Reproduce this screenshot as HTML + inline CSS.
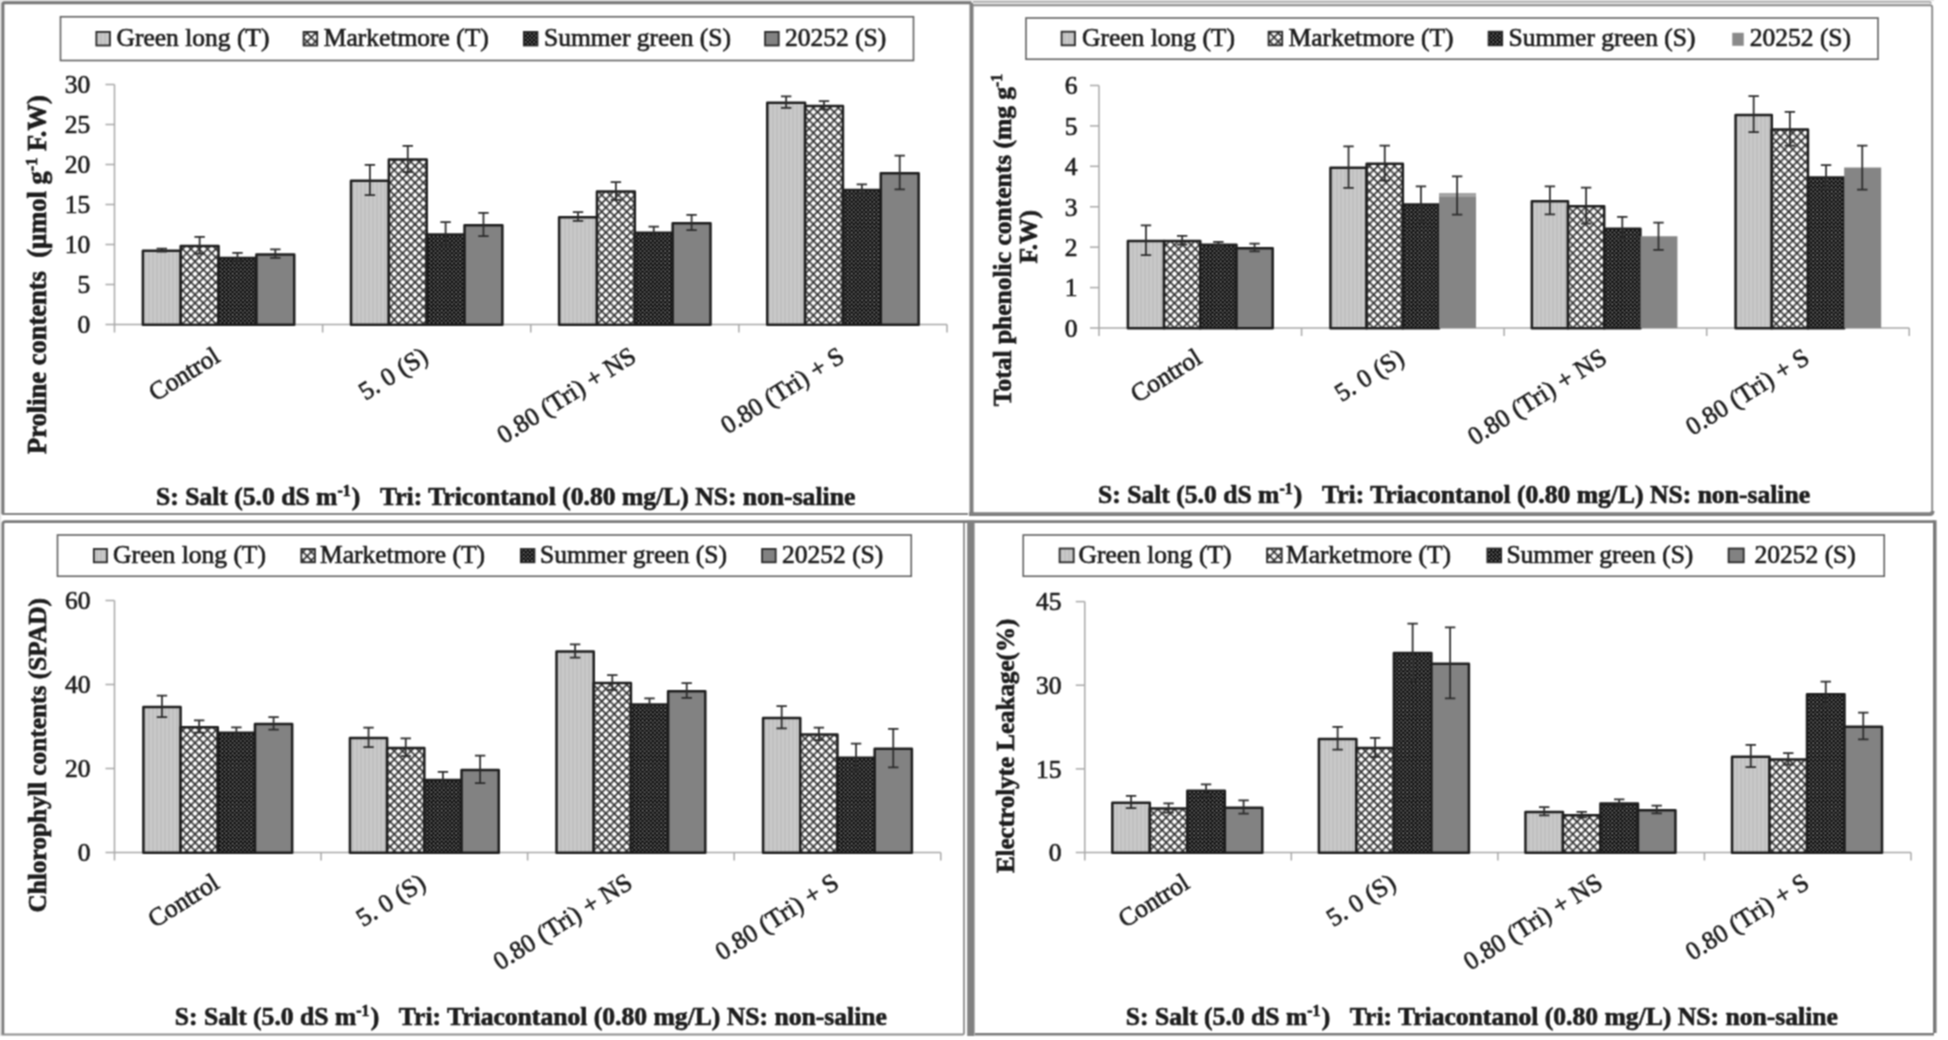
<!DOCTYPE html>
<html lang="en"><head><meta charset="utf-8"><title>Figure</title>
<style>html,body{margin:0;padding:0;background:#fff;}body{width:1948px;height:1040px;overflow:hidden;}svg{display:block;}svg text{stroke:#1c1c1c;stroke-width:0.65px;stroke-linejoin:round;}</style>
</head><body>
<svg width="1948" height="1040" viewBox="0 0 1948 1040" font-family='"Liberation Serif", serif' font-size="25.5" fill="#1c1c1c">
<defs>
<filter id="soft" x="0" y="0" width="1948" height="1040" filterUnits="userSpaceOnUse" color-interpolation-filters="sRGB"><feConvolveMatrix order="3" kernelMatrix="0.0625 0.125 0.0625 0.125 0.25 0.125 0.0625 0.125 0.0625" divisor="1" edgeMode="duplicate" preserveAlpha="true"/></filter>
<pattern id="pa" width="4" height="8" patternUnits="userSpaceOnUse"><rect width="4" height="8" fill="#c9c9c9"/><rect x="0" width="2" height="8" fill="#bfbfbf"/></pattern>
<pattern id="pb" width="8.3" height="8.3" patternUnits="userSpaceOnUse"><rect width="8.3" height="8.3" fill="#ffffff"/><path d="M-1,-1 L9.3,9.3 M9.3,-1 L-1,9.3" stroke="#2a2a2a" stroke-width="1.55" fill="none"/></pattern>
<pattern id="pc" width="4.1" height="4.1" patternUnits="userSpaceOnUse"><rect width="4.1" height="4.1" fill="#0e0e0e"/><circle cx="1" cy="1" r="0.72" fill="#b0b0b0"/><circle cx="3.05" cy="3.05" r="0.72" fill="#b0b0b0"/></pattern>
</defs>
<g filter="url(#soft)">
<rect x="-5" y="-5" width="1958" height="1050" fill="#ffffff"/>
<g id="frames" fill="none" stroke-linecap="butt">
<rect x="0" y="0" width="1934" height="1.2" fill="#e6e6e6" stroke="none"/>
<rect x="0" y="0" width="1.3" height="1036" fill="#e6e6e6" stroke="none"/>
<path d="M2.9,514 V4 Q2.9,2.8 4.2,2.8 H971.5" stroke="#777777" stroke-width="3"/>
<path d="M2,514 H968" stroke="#838383" stroke-width="1.9"/>
<path d="M971.5,2.8 V514" stroke="#7f7f7f" stroke-width="4"/>
<rect x="973" y="1.7" width="958" height="3.6" fill="#eeeeee" stroke="none"/>
<path d="M973,1.8 H1929 Q1931,1.8 1931,3.5" stroke="#949494" stroke-width="1.3"/>
<path d="M973,5.2 H1930 Q1932.2,5.2 1932.2,7.5 V512" stroke="#8a8a8a" stroke-width="1.9"/>
<path d="M969,514.1 H1930 Q1932.6,514.1 1932.6,511" stroke="#7f7f7f" stroke-width="3.8"/>
<path d="M2.9,1034.4 V524 Q2.9,521.6 5.3,521.6 H1934" stroke="#7a7a7a" stroke-width="2.7"/>
<path d="M1934.8,520.3 V1033" stroke="#777777" stroke-width="3.5"/>
<path d="M975,1034.3 H1934" stroke="#7a7a7a" stroke-width="2.5"/>
<path d="M1.5,1034.5 H963 Q964,1034.5 964,1033 V523" stroke="#8d8d8d" stroke-width="1.8"/>
<path d="M970.9,520.5 V1036" stroke="#818181" stroke-width="7.4"/>
</g>
<g id="panel1">
<rect x="60.5" y="16.75" width="853" height="43.75" fill="#ffffff" stroke="#626262" stroke-width="1.6"/>
<rect x="96.35" y="31.9" width="13.6" height="13.6" fill="url(#pa)" stroke="#2a2a2a" stroke-width="1.8"/>
<text x="116.5" y="46.3">Green long (T)</text>
<rect x="303.6" y="31.9" width="13.6" height="13.6" fill="url(#pb)" stroke="#2a2a2a" stroke-width="1.8"/>
<text x="323.75" y="46.3">Marketmore (T)</text>
<rect x="523.85" y="31.9" width="13.6" height="13.6" fill="url(#pc)" stroke="#2a2a2a" stroke-width="1.8"/>
<text x="544" y="46.3">Summer green (S)</text>
<rect x="765.1" y="31.9" width="13.6" height="13.6" fill="#828282" stroke="#2a2a2a" stroke-width="1.8"/>
<text x="785" y="46.3">20252 (S)</text>
<g stroke="#a9a9a9" stroke-width="1.5" fill="none">
<path d="M114.5,84.5 V332.5"/>
<path d="M105.5,324.5 H947"/>
<path d="M105.5,284.5 H114.5"/>
<path d="M105.5,244.5 H114.5"/>
<path d="M105.5,204.5 H114.5"/>
<path d="M105.5,164.5 H114.5"/>
<path d="M105.5,124.5 H114.5"/>
<path d="M105.5,84.5 H114.5"/>
<path d="M322.62,324.5 V332.5"/>
<path d="M530.75,324.5 V332.5"/>
<path d="M738.88,324.5 V332.5"/>
<path d="M947,324.5 V332.5"/>
</g>
<text x="90.2" y="333.3" text-anchor="end">0</text>
<text x="90.2" y="293.3" text-anchor="end">5</text>
<text x="90.2" y="253.3" text-anchor="end">10</text>
<text x="90.2" y="213.3" text-anchor="end">15</text>
<text x="90.2" y="173.3" text-anchor="end">20</text>
<text x="90.2" y="133.3" text-anchor="end">25</text>
<text x="90.2" y="93.3" text-anchor="end">30</text>
<rect x="142.86" y="250.8" width="37.85" height="73.9" fill="url(#pa)" stroke="#1e1e1e" stroke-width="2.5" stroke-linejoin="round"/>
<rect x="180.71" y="246" width="37.85" height="78.7" fill="url(#pb)" stroke="#1e1e1e" stroke-width="2.5" stroke-linejoin="round"/>
<rect x="218.56" y="258" width="37.85" height="66.7" fill="url(#pc)" stroke="#1e1e1e" stroke-width="2.5" stroke-linejoin="round"/>
<rect x="256.41" y="254.4" width="37.85" height="70.3" fill="#828282" stroke="#1e1e1e" stroke-width="2.5" stroke-linejoin="round"/>
<rect x="350.99" y="180.72" width="37.85" height="143.98" fill="url(#pa)" stroke="#1e1e1e" stroke-width="2.5" stroke-linejoin="round"/>
<rect x="388.84" y="159.6" width="37.85" height="165.1" fill="url(#pb)" stroke="#1e1e1e" stroke-width="2.5" stroke-linejoin="round"/>
<rect x="426.69" y="234.4" width="37.85" height="90.3" fill="url(#pc)" stroke="#1e1e1e" stroke-width="2.5" stroke-linejoin="round"/>
<rect x="464.54" y="225.2" width="37.85" height="99.5" fill="#828282" stroke="#1e1e1e" stroke-width="2.5" stroke-linejoin="round"/>
<rect x="559.11" y="217.2" width="37.85" height="107.5" fill="url(#pa)" stroke="#1e1e1e" stroke-width="2.5" stroke-linejoin="round"/>
<rect x="596.96" y="191.6" width="37.85" height="133.1" fill="url(#pb)" stroke="#1e1e1e" stroke-width="2.5" stroke-linejoin="round"/>
<rect x="634.81" y="232.8" width="37.85" height="91.9" fill="url(#pc)" stroke="#1e1e1e" stroke-width="2.5" stroke-linejoin="round"/>
<rect x="672.66" y="223.2" width="37.85" height="101.5" fill="#828282" stroke="#1e1e1e" stroke-width="2.5" stroke-linejoin="round"/>
<rect x="767.24" y="102.8" width="37.85" height="221.9" fill="url(#pa)" stroke="#1e1e1e" stroke-width="2.5" stroke-linejoin="round"/>
<rect x="805.09" y="106" width="37.85" height="218.7" fill="url(#pb)" stroke="#1e1e1e" stroke-width="2.5" stroke-linejoin="round"/>
<rect x="842.94" y="190" width="37.85" height="134.7" fill="url(#pc)" stroke="#1e1e1e" stroke-width="2.5" stroke-linejoin="round"/>
<rect x="880.79" y="173.2" width="37.85" height="151.5" fill="#828282" stroke="#1e1e1e" stroke-width="2.5" stroke-linejoin="round"/>
<g stroke="#2c2c2c" stroke-width="1.75" fill="none">
<path d="M161.79,248.5 V251.7 M156.59,248.5 H166.99 M156.59,251.7 H166.99"/>
<path d="M199.64,236.98 V253.62 M194.44,236.98 H204.84 M194.44,253.62 H204.84"/>
<path d="M237.49,252.98 V261.62 M232.29,252.98 H242.69 M232.29,261.62 H242.69"/>
<path d="M275.34,249.46 V257.94 M270.14,249.46 H280.54 M270.14,257.94 H280.54"/>
<path d="M369.91,164.98 V195.06 M364.71,164.98 H375.11 M364.71,195.06 H375.11"/>
<path d="M407.76,145.78 V172.02 M402.56,145.78 H412.96 M402.56,172.02 H412.96"/>
<path d="M445.61,222.02 V245.38 M440.41,222.02 H450.81 M440.41,245.38 H450.81"/>
<path d="M483.46,212.98 V236.02 M478.26,212.98 H488.66 M478.26,236.02 H488.66"/>
<path d="M578.04,212.02 V220.98 M572.84,212.02 H583.24 M572.84,220.98 H583.24"/>
<path d="M615.89,182.02 V199.78 M610.69,182.02 H621.09 M610.69,199.78 H621.09"/>
<path d="M653.74,226.74 V237.46 M648.54,226.74 H658.94 M648.54,237.46 H658.94"/>
<path d="M691.59,214.98 V230.02 M686.39,214.98 H696.79 M686.39,230.02 H696.79"/>
<path d="M786.16,96.26 V107.94 M780.96,96.26 H791.36 M780.96,107.94 H791.36"/>
<path d="M824.01,101.22 V109.38 M818.81,101.22 H829.21 M818.81,109.38 H829.21"/>
<path d="M861.86,184.26 V194.34 M856.66,184.26 H867.06 M856.66,194.34 H867.06"/>
<path d="M899.71,155.7 V189.3 M894.51,155.7 H904.91 M894.51,189.3 H904.91"/>
</g>
<text transform="translate(221.56,360.5) rotate(-32)" text-anchor="end">Control</text>
<text transform="translate(429.69,360.5) rotate(-32)" text-anchor="end">5. 0 (S)</text>
<text transform="translate(637.81,360.5) rotate(-32)" text-anchor="end">0.80 (Tri) + NS</text>
<text transform="translate(845.94,360.5) rotate(-32)" text-anchor="end">0.80 (Tri) + S</text>
<text xml:space="preserve" transform="translate(45.6,453.9) rotate(-90)" text-anchor="start" font-weight="bold" font-size="26.5">Proline contents  (µmol g<tspan font-size="16.43" dy="-9">-1</tspan><tspan dy="9"> F.W)</tspan></text>
<text xml:space="preserve" x="156" y="505" font-weight="bold" font-size="25.62">S: Salt (5.0 dS m<tspan font-size="15.88" dy="-9">-1</tspan><tspan dy="9" dx="1.2">)</tspan><tspan dx="0.9">   Tri: Tricontanol (0.80 mg/L) NS: non-saline</tspan></text>
</g>
<g id="panel2">
<rect x="1026" y="18" width="852" height="41.25" fill="#ffffff" stroke="#626262" stroke-width="1.6"/>
<rect x="1061.6" y="31.7" width="13.35" height="13.6" fill="url(#pa)" stroke="#2a2a2a" stroke-width="1.8"/>
<text x="1082" y="46">Green long (T)</text>
<rect x="1268.6" y="31.7" width="13.6" height="13.6" fill="url(#pb)" stroke="#2a2a2a" stroke-width="1.8"/>
<text x="1288.5" y="46">Marketmore (T)</text>
<rect x="1488.6" y="31.7" width="13.6" height="13.6" fill="url(#pc)" stroke="#2a2a2a" stroke-width="1.8"/>
<text x="1508.5" y="46">Summer green (S)</text>
<rect x="1732.25" y="32.8" width="11.5" height="13" fill="#8a8a8a"/>
<text x="1749.75" y="46">20252 (S)</text>
<g stroke="#a9a9a9" stroke-width="1.5" fill="none">
<path d="M1099,85.48 V336"/>
<path d="M1090,328 H1909.25"/>
<path d="M1090,287.58 H1099"/>
<path d="M1090,247.16 H1099"/>
<path d="M1090,206.74 H1099"/>
<path d="M1090,166.32 H1099"/>
<path d="M1090,125.9 H1099"/>
<path d="M1090,85.48 H1099"/>
<path d="M1301.56,328 V336"/>
<path d="M1504.12,328 V336"/>
<path d="M1706.69,328 V336"/>
<path d="M1909.25,328 V336"/>
</g>
<text x="1077.5" y="336.8" text-anchor="end">0</text>
<text x="1077.5" y="296.38" text-anchor="end">1</text>
<text x="1077.5" y="255.96" text-anchor="end">2</text>
<text x="1077.5" y="215.54" text-anchor="end">3</text>
<text x="1077.5" y="175.12" text-anchor="end">4</text>
<text x="1077.5" y="134.7" text-anchor="end">5</text>
<text x="1077.5" y="94.28" text-anchor="end">6</text>
<rect x="1127.88" y="240.99" width="36.2" height="87.21" fill="url(#pa)" stroke="#1e1e1e" stroke-width="2.5" stroke-linejoin="round"/>
<rect x="1164.08" y="240.99" width="36.2" height="87.21" fill="url(#pb)" stroke="#1e1e1e" stroke-width="2.5" stroke-linejoin="round"/>
<rect x="1200.28" y="244.63" width="36.2" height="83.57" fill="url(#pc)" stroke="#1e1e1e" stroke-width="2.5" stroke-linejoin="round"/>
<rect x="1236.48" y="248.26" width="36.2" height="79.94" fill="#828282" stroke="#1e1e1e" stroke-width="2.5" stroke-linejoin="round"/>
<rect x="1330.44" y="167.83" width="36.2" height="160.37" fill="url(#pa)" stroke="#1e1e1e" stroke-width="2.5" stroke-linejoin="round"/>
<rect x="1366.64" y="163.79" width="36.2" height="164.41" fill="url(#pb)" stroke="#1e1e1e" stroke-width="2.5" stroke-linejoin="round"/>
<rect x="1402.84" y="204.61" width="36.2" height="123.59" fill="url(#pc)" stroke="#1e1e1e" stroke-width="2.5" stroke-linejoin="round"/>
<rect x="1439.04" y="195.42" width="37" height="132.58" fill="#858585"/>
<rect x="1439.04" y="193.02" width="37" height="4" fill="#a4a4a4"/>
<rect x="1531.81" y="201.17" width="36.2" height="127.03" fill="url(#pa)" stroke="#1e1e1e" stroke-width="2.5" stroke-linejoin="round"/>
<rect x="1568.01" y="206.23" width="36.2" height="121.97" fill="url(#pb)" stroke="#1e1e1e" stroke-width="2.5" stroke-linejoin="round"/>
<rect x="1604.21" y="228.86" width="36.2" height="99.34" fill="url(#pc)" stroke="#1e1e1e" stroke-width="2.5" stroke-linejoin="round"/>
<rect x="1640.41" y="236.25" width="37" height="91.75" fill="#858585"/>
<rect x="1735.57" y="114.88" width="36.2" height="213.32" fill="url(#pa)" stroke="#1e1e1e" stroke-width="2.5" stroke-linejoin="round"/>
<rect x="1771.77" y="129.43" width="36.2" height="198.77" fill="url(#pb)" stroke="#1e1e1e" stroke-width="2.5" stroke-linejoin="round"/>
<rect x="1807.97" y="177.53" width="36.2" height="150.67" fill="url(#pc)" stroke="#1e1e1e" stroke-width="2.5" stroke-linejoin="round"/>
<rect x="1844.17" y="167.53" width="37" height="160.47" fill="#858585"/>
<g stroke="#2c2c2c" stroke-width="1.75" fill="none">
<path d="M1145.98,225.49 V255.08 M1140.78,225.49 H1151.18 M1140.78,255.08 H1151.18"/>
<path d="M1182.18,235.84 V244.73 M1176.98,235.84 H1187.38 M1176.98,244.73 H1187.38"/>
<path d="M1218.38,241.91 V245.95 M1213.18,241.91 H1223.58 M1213.18,245.95 H1223.58"/>
<path d="M1254.58,243.72 V251.4 M1249.38,243.72 H1259.78 M1249.38,251.4 H1259.78"/>
<path d="M1348.54,146.27 V187.99 M1343.34,146.27 H1353.74 M1343.34,187.99 H1353.74"/>
<path d="M1384.74,145.5 V180.67 M1379.54,145.5 H1389.94 M1379.54,180.67 H1389.94"/>
<path d="M1420.94,186.25 V221.57 M1415.74,186.25 H1426.14 M1415.74,221.57 H1426.14"/>
<path d="M1457.14,176.26 V214.58 M1451.94,176.26 H1462.34 M1451.94,214.58 H1462.34"/>
<path d="M1549.91,186.49 V214.46 M1544.71,186.49 H1555.11 M1544.71,214.46 H1555.11"/>
<path d="M1586.11,187.54 V223.51 M1580.91,187.54 H1591.31 M1580.91,223.51 H1591.31"/>
<path d="M1622.31,216.97 V239.36 M1617.11,216.97 H1627.51 M1617.11,239.36 H1627.51"/>
<path d="M1658.51,222.5 V249.99 M1653.31,222.5 H1663.71 M1653.31,249.99 H1663.71"/>
<path d="M1753.67,96.23 V132.12 M1748.47,96.23 H1758.87 M1748.47,132.12 H1758.87"/>
<path d="M1789.87,111.75 V145.71 M1784.67,111.75 H1795.07 M1784.67,145.71 H1795.07"/>
<path d="M1826.07,165.11 V188.55 M1820.87,165.11 H1831.27 M1820.87,188.55 H1831.27"/>
<path d="M1862.27,145.5 V189.56 M1857.07,145.5 H1867.47 M1857.07,189.56 H1867.47"/>
</g>
<text transform="translate(1203.28,362) rotate(-32)" text-anchor="end">Control</text>
<text transform="translate(1405.84,362) rotate(-32)" text-anchor="end">5. 0 (S)</text>
<text transform="translate(1608.41,362) rotate(-32)" text-anchor="end">0.80 (Tri) + NS</text>
<text transform="translate(1810.97,362) rotate(-32)" text-anchor="end">0.80 (Tri) + S</text>
<text xml:space="preserve" transform="translate(1010.5,406.2) rotate(-90)" text-anchor="start" font-weight="bold" font-size="25.5">Total phenolic contents (mg g<tspan font-size="15.81" dy="-9">-1</tspan></text>
<text xml:space="preserve" transform="translate(1037.2,236.8) rotate(-90)" text-anchor="middle" font-weight="bold" font-size="25.5">F.W)</text>
<text xml:space="preserve" x="1098" y="502.5" font-weight="bold" font-size="25.62">S: Salt (5.0 dS m<tspan font-size="15.88" dy="-9">-1</tspan><tspan dy="9" dx="1.2">)</tspan><tspan dx="0.9">   Tri: Triacontanol (0.80 mg/L) NS: non-saline</tspan></text>
</g>
<g id="panel3">
<rect x="57.5" y="535" width="853.75" height="41.25" fill="#ffffff" stroke="#626262" stroke-width="1.6"/>
<rect x="93.85" y="549" width="13.1" height="13.3" fill="url(#pa)" stroke="#2a2a2a" stroke-width="1.8"/>
<text x="113" y="563">Green long (T)</text>
<rect x="301.35" y="549" width="13.6" height="13.3" fill="url(#pb)" stroke="#2a2a2a" stroke-width="1.8"/>
<text x="320" y="563">Marketmore (T)</text>
<rect x="520.85" y="549" width="13.6" height="13.3" fill="url(#pc)" stroke="#2a2a2a" stroke-width="1.8"/>
<text x="540" y="563">Summer green (S)</text>
<rect x="762.1" y="549" width="13.6" height="13.3" fill="#828282" stroke="#2a2a2a" stroke-width="1.8"/>
<text x="782" y="563">20252 (S)</text>
<g stroke="#a9a9a9" stroke-width="1.5" fill="none">
<path d="M114.5,600.5 V860.5"/>
<path d="M105.5,852.5 H940.75"/>
<path d="M105.5,768.5 H114.5"/>
<path d="M105.5,684.5 H114.5"/>
<path d="M105.5,600.5 H114.5"/>
<path d="M321.06,852.5 V860.5"/>
<path d="M527.62,852.5 V860.5"/>
<path d="M734.19,852.5 V860.5"/>
<path d="M940.75,852.5 V860.5"/>
</g>
<text x="90.4" y="861.3" text-anchor="end">0</text>
<text x="90.4" y="777.3" text-anchor="end">20</text>
<text x="90.4" y="693.3" text-anchor="end">40</text>
<text x="90.4" y="609.3" text-anchor="end">60</text>
<rect x="143.38" y="707.04" width="37.2" height="145.66" fill="url(#pa)" stroke="#1e1e1e" stroke-width="2.5" stroke-linejoin="round"/>
<rect x="180.58" y="727.2" width="37.2" height="125.5" fill="url(#pb)" stroke="#1e1e1e" stroke-width="2.5" stroke-linejoin="round"/>
<rect x="217.78" y="732.66" width="37.2" height="120.04" fill="url(#pc)" stroke="#1e1e1e" stroke-width="2.5" stroke-linejoin="round"/>
<rect x="254.98" y="724.05" width="37.2" height="128.65" fill="#828282" stroke="#1e1e1e" stroke-width="2.5" stroke-linejoin="round"/>
<rect x="349.94" y="738.12" width="37.2" height="114.58" fill="url(#pa)" stroke="#1e1e1e" stroke-width="2.5" stroke-linejoin="round"/>
<rect x="387.14" y="747.91" width="37.2" height="104.79" fill="url(#pb)" stroke="#1e1e1e" stroke-width="2.5" stroke-linejoin="round"/>
<rect x="424.34" y="779.91" width="37.2" height="72.79" fill="url(#pc)" stroke="#1e1e1e" stroke-width="2.5" stroke-linejoin="round"/>
<rect x="461.54" y="770.04" width="37.2" height="82.66" fill="#828282" stroke="#1e1e1e" stroke-width="2.5" stroke-linejoin="round"/>
<rect x="556.51" y="651.6" width="37.2" height="201.1" fill="url(#pa)" stroke="#1e1e1e" stroke-width="2.5" stroke-linejoin="round"/>
<rect x="593.71" y="683.1" width="37.2" height="169.6" fill="url(#pb)" stroke="#1e1e1e" stroke-width="2.5" stroke-linejoin="round"/>
<rect x="630.91" y="704.52" width="37.2" height="148.18" fill="url(#pc)" stroke="#1e1e1e" stroke-width="2.5" stroke-linejoin="round"/>
<rect x="668.11" y="691.29" width="37.2" height="161.41" fill="#828282" stroke="#1e1e1e" stroke-width="2.5" stroke-linejoin="round"/>
<rect x="763.07" y="717.96" width="37.2" height="134.74" fill="url(#pa)" stroke="#1e1e1e" stroke-width="2.5" stroke-linejoin="round"/>
<rect x="800.27" y="734.55" width="37.2" height="118.15" fill="url(#pb)" stroke="#1e1e1e" stroke-width="2.5" stroke-linejoin="round"/>
<rect x="837.47" y="757.86" width="37.2" height="94.84" fill="url(#pc)" stroke="#1e1e1e" stroke-width="2.5" stroke-linejoin="round"/>
<rect x="874.67" y="748.83" width="37.2" height="103.87" fill="#828282" stroke="#1e1e1e" stroke-width="2.5" stroke-linejoin="round"/>
<g stroke="#2c2c2c" stroke-width="1.75" fill="none">
<path d="M161.98,695.55 V717.13 M156.78,695.55 H167.18 M156.78,717.13 H167.18"/>
<path d="M199.18,720.49 V732.51 M193.98,720.49 H204.38 M193.98,732.51 H204.38"/>
<path d="M236.38,727.47 V736.45 M231.18,727.47 H241.58 M231.18,736.45 H241.58"/>
<path d="M273.58,717.01 V729.69 M268.38,717.01 H278.78 M268.38,729.69 H278.78"/>
<path d="M368.54,727.63 V747.21 M363.34,727.63 H373.74 M363.34,747.21 H373.74"/>
<path d="M405.74,738.39 V756.03 M400.54,738.39 H410.94 M400.54,756.03 H410.94"/>
<path d="M442.94,771.82 V786.6 M437.74,771.82 H448.14 M437.74,786.6 H448.14"/>
<path d="M480.14,755.52 V783.16 M474.94,755.52 H485.34 M474.94,783.16 H485.34"/>
<path d="M575.11,644.26 V657.54 M569.91,644.26 H580.31 M569.91,657.54 H580.31"/>
<path d="M612.31,675.01 V689.79 M607.11,675.01 H617.51 M607.11,689.79 H617.51"/>
<path d="M649.51,698.28 V709.36 M644.31,698.28 H654.71 M644.31,709.36 H654.71"/>
<path d="M686.71,683.24 V697.94 M681.51,683.24 H691.91 M681.51,697.94 H691.91"/>
<path d="M781.67,706.21 V728.31 M776.47,706.21 H786.87 M776.47,728.31 H786.87"/>
<path d="M818.87,727.51 V740.19 M813.67,727.51 H824.07 M813.67,740.19 H824.07"/>
<path d="M856.07,743.72 V770.6 M850.87,743.72 H861.27 M850.87,770.6 H861.27"/>
<path d="M893.27,728.81 V767.45 M888.07,728.81 H898.47 M888.07,767.45 H898.47"/>
</g>
<text transform="translate(220.78,887) rotate(-32)" text-anchor="end">Control</text>
<text transform="translate(427.34,887) rotate(-32)" text-anchor="end">5. 0 (S)</text>
<text transform="translate(633.91,887) rotate(-32)" text-anchor="end">0.80 (Tri) + NS</text>
<text transform="translate(840.47,887) rotate(-32)" text-anchor="end">0.80 (Tri) + S</text>
<text xml:space="preserve" transform="translate(45.9,912.6) rotate(-90)" text-anchor="start" font-weight="bold" font-size="25.35">Chlorophyll contents (SPAD)</text>
<text xml:space="preserve" x="174.8" y="1025" font-weight="bold" font-size="25.62">S: Salt (5.0 dS m<tspan font-size="15.88" dy="-9">-1</tspan><tspan dy="9" dx="1.2">)</tspan><tspan dx="0.9">   Tri: Triacontanol (0.80 mg/L) NS: non-saline</tspan></text>
</g>
<g id="panel4">
<rect x="1023.25" y="535" width="861" height="41.25" fill="#ffffff" stroke="#626262" stroke-width="1.6"/>
<rect x="1059.6" y="548.5" width="14.1" height="13.8" fill="url(#pa)" stroke="#2a2a2a" stroke-width="1.8"/>
<text x="1078.5" y="563">Green long (T)</text>
<rect x="1267.1" y="548.5" width="14.6" height="13.8" fill="url(#pb)" stroke="#2a2a2a" stroke-width="1.8"/>
<text x="1286" y="563">Marketmore (T)</text>
<rect x="1487.35" y="548.5" width="13.8" height="13.8" fill="url(#pc)" stroke="#2a2a2a" stroke-width="1.8"/>
<text x="1506.4" y="563">Summer green (S)</text>
<rect x="1728.6" y="548.5" width="15.1" height="13.8" fill="#828282" stroke="#2a2a2a" stroke-width="1.8"/>
<text x="1754.5" y="563">20252 (S)</text>
<g stroke="#a9a9a9" stroke-width="1.5" fill="none">
<path d="M1084.75,601.62 V860.5"/>
<path d="M1075.75,852.5 H1911"/>
<path d="M1075.75,768.88 H1084.75"/>
<path d="M1075.75,685.25 H1084.75"/>
<path d="M1075.75,601.62 H1084.75"/>
<path d="M1291.31,852.5 V860.5"/>
<path d="M1497.88,852.5 V860.5"/>
<path d="M1704.44,852.5 V860.5"/>
<path d="M1911,852.5 V860.5"/>
</g>
<text x="1061.4" y="861.3" text-anchor="end">0</text>
<text x="1061.4" y="777.67" text-anchor="end">15</text>
<text x="1061.4" y="694.05" text-anchor="end">30</text>
<text x="1061.4" y="610.42" text-anchor="end">45</text>
<rect x="1112.33" y="802.63" width="37.5" height="50.07" fill="url(#pa)" stroke="#1e1e1e" stroke-width="2.5" stroke-linejoin="round"/>
<rect x="1149.83" y="808.6" width="37.5" height="44.1" fill="url(#pb)" stroke="#1e1e1e" stroke-width="2.5" stroke-linejoin="round"/>
<rect x="1187.33" y="790.76" width="37.5" height="61.94" fill="url(#pc)" stroke="#1e1e1e" stroke-width="2.5" stroke-linejoin="round"/>
<rect x="1224.83" y="807.76" width="37.5" height="44.94" fill="#828282" stroke="#1e1e1e" stroke-width="2.5" stroke-linejoin="round"/>
<rect x="1318.89" y="738.91" width="37.5" height="113.79" fill="url(#pa)" stroke="#1e1e1e" stroke-width="2.5" stroke-linejoin="round"/>
<rect x="1356.39" y="748.11" width="37.5" height="104.59" fill="url(#pb)" stroke="#1e1e1e" stroke-width="2.5" stroke-linejoin="round"/>
<rect x="1393.89" y="653.06" width="37.5" height="199.64" fill="url(#pc)" stroke="#1e1e1e" stroke-width="2.5" stroke-linejoin="round"/>
<rect x="1431.39" y="663.65" width="37.5" height="189.05" fill="#828282" stroke="#1e1e1e" stroke-width="2.5" stroke-linejoin="round"/>
<rect x="1525.46" y="811.95" width="37.5" height="40.75" fill="url(#pa)" stroke="#1e1e1e" stroke-width="2.5" stroke-linejoin="round"/>
<rect x="1562.96" y="815.29" width="37.5" height="37.41" fill="url(#pb)" stroke="#1e1e1e" stroke-width="2.5" stroke-linejoin="round"/>
<rect x="1600.46" y="803.58" width="37.5" height="49.12" fill="url(#pc)" stroke="#1e1e1e" stroke-width="2.5" stroke-linejoin="round"/>
<rect x="1637.96" y="810.27" width="37.5" height="42.43" fill="#828282" stroke="#1e1e1e" stroke-width="2.5" stroke-linejoin="round"/>
<rect x="1732.02" y="756.75" width="37.5" height="95.95" fill="url(#pa)" stroke="#1e1e1e" stroke-width="2.5" stroke-linejoin="round"/>
<rect x="1769.52" y="759.54" width="37.5" height="93.16" fill="url(#pb)" stroke="#1e1e1e" stroke-width="2.5" stroke-linejoin="round"/>
<rect x="1807.02" y="694.31" width="37.5" height="158.39" fill="url(#pc)" stroke="#1e1e1e" stroke-width="2.5" stroke-linejoin="round"/>
<rect x="1844.52" y="726.65" width="37.5" height="126.05" fill="#828282" stroke="#1e1e1e" stroke-width="2.5" stroke-linejoin="round"/>
<g stroke="#2c2c2c" stroke-width="1.75" fill="none">
<path d="M1131.08,795.8 V808.07 M1125.88,795.8 H1136.28 M1125.88,808.07 H1136.28"/>
<path d="M1168.58,803.27 V812.53 M1163.38,803.27 H1173.78 M1163.38,812.53 H1173.78"/>
<path d="M1206.08,784.48 V795.63 M1200.88,784.48 H1211.28 M1200.88,795.63 H1211.28"/>
<path d="M1243.58,800.49 V813.64 M1238.38,800.49 H1248.78 M1238.38,813.64 H1248.78"/>
<path d="M1337.64,726.78 V749.64 M1332.44,726.78 H1342.84 M1332.44,749.64 H1342.84"/>
<path d="M1375.14,737.99 V756.83 M1369.94,737.99 H1380.34 M1369.94,756.83 H1380.34"/>
<path d="M1412.64,623.7 V681.01 M1407.44,623.7 H1417.84 M1407.44,681.01 H1417.84"/>
<path d="M1450.14,627.44 V698.46 M1444.94,627.44 H1455.34 M1444.94,698.46 H1455.34"/>
<path d="M1544.21,807.06 V815.43 M1539.01,807.06 H1549.41 M1539.01,815.43 H1549.41"/>
<path d="M1581.71,811.75 V817.43 M1576.51,811.75 H1586.91 M1576.51,817.43 H1586.91"/>
<path d="M1619.21,799.26 V806.51 M1614.01,799.26 H1624.41 M1614.01,806.51 H1624.41"/>
<path d="M1656.71,805.73 V813.42 M1651.51,805.73 H1661.91 M1651.51,813.42 H1661.91"/>
<path d="M1750.77,744.96 V767.15 M1745.57,744.96 H1755.97 M1745.57,767.15 H1755.97"/>
<path d="M1788.27,753.04 V764.64 M1783.07,753.04 H1793.47 M1783.07,764.64 H1793.47"/>
<path d="M1825.77,681.74 V705.49 M1820.57,681.74 H1830.97 M1820.57,705.49 H1830.97"/>
<path d="M1863.27,712.57 V739.33 M1858.07,712.57 H1868.47 M1858.07,739.33 H1868.47"/>
</g>
<text transform="translate(1191.03,887) rotate(-32)" text-anchor="end">Control</text>
<text transform="translate(1397.59,887) rotate(-32)" text-anchor="end">5. 0 (S)</text>
<text transform="translate(1604.16,887) rotate(-32)" text-anchor="end">0.80 (Tri) + NS</text>
<text transform="translate(1810.72,887) rotate(-32)" text-anchor="end">0.80 (Tri) + S</text>
<text xml:space="preserve" transform="translate(1014,873.1) rotate(-90)" text-anchor="start" font-weight="bold" font-size="25.0">Electrolyte Leakage(%)</text>
<text xml:space="preserve" x="1125.8" y="1024.5" font-weight="bold" font-size="25.62">S: Salt (5.0 dS m<tspan font-size="15.88" dy="-9">-1</tspan><tspan dy="9" dx="1.2">)</tspan><tspan dx="0.9">   Tri: Triacontanol (0.80 mg/L) NS: non-saline</tspan></text>
</g>
</g>
</svg>
</body></html>
